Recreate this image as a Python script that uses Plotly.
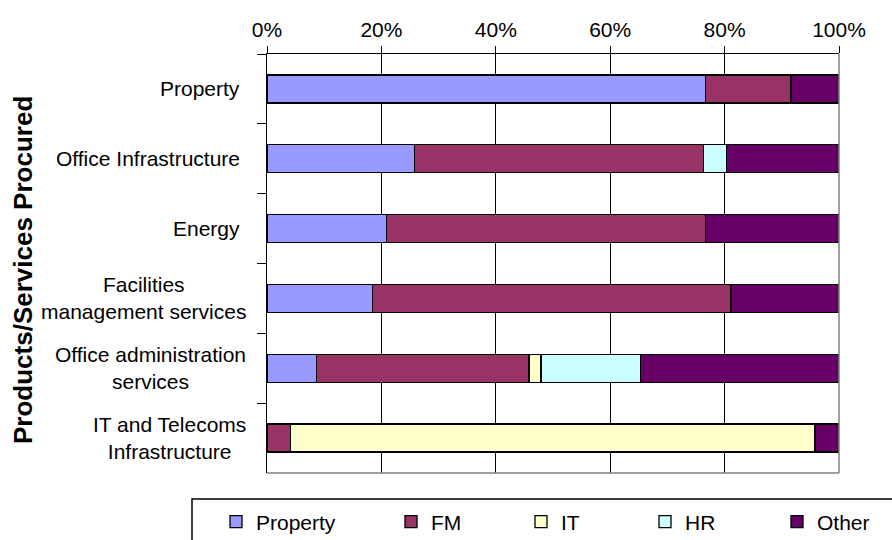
import plotly.graph_objects as go

categories = ["Property", "Office Infrastructure", "Energy",
              "Facilities management services", "Office administration services",
              "IT and Telecoms Infrastructure"]
category_labels = ["Property", "Office Infrastructure", "Energy",
                   "Facilities<br>management services", "Office administration<br>services",
                   "IT and Telecoms<br>Infrastructure"]
series_names = ["Property", "FM", "IT", "HR", "Other"]
property_vals = [76.6, 25.8, 20.9, 18.5, 8.7, None]
fm_vals = [15.0, 50.5, 55.7, 62.6, 37.1, 4.1]
it_vals = [None, None, None, None, 2.1, 91.7]
hr_vals = [None, 4.0, None, None, 17.4, None]
other_vals = [8.4, 19.7, 23.4, 18.9, 34.7, 4.2]
x_ticks = [0, 20, 40, 60, 80, 100]
x_tick_text = ["0%", "20%", "40%", "60%", "80%", "100%"]

colors = ["#9999FF", "#993366", "#FFFFCC", "#CCFFFF", "#660066"]
values = [property_vals, fm_vals, it_vals, hr_vals, other_vals]
legend_ids = ["legend", "legend2", "legend3", "legend4", "legend5"]
legend_px = [233, 408, 538, 662, 794]   # left edge of each legend square (px)

W, H = 892, 540
L, R, T, B = 267, 53, 54, 67
pw, ph = W - L - R, H - T - B

def px_x(p):
    return (p - L) / pw

def px_y(p):
    return (H - B - p) / ph

FONT = "Liberation Sans, Arial, sans-serif"
FS = 21

fig = go.Figure()
for name, vals, col, lid in zip(series_names, values, colors, legend_ids):
    fig.add_trace(go.Bar(
        y=categories, x=vals, name=name, orientation="h", legend=lid,
        marker=dict(color=col, line=dict(color="black", width=1.3)),
    ))

legend_layouts = {}
for lid, lx in zip(legend_ids, legend_px):
    legend_layouts[lid] = dict(
        orientation="h", x=px_x(lx - 17), xanchor="left",
        y=px_y(522), yanchor="middle", itemwidth=30,
        font=dict(family=FONT, size=FS, color="black"),
        bgcolor="rgba(0,0,0,0)", borderwidth=0)

fig.update_layout(
    width=W, height=H, barmode="stack", bargap=0.6,
    margin=dict(l=L, r=R, t=T, b=B, pad=0, autoexpand=False),
    paper_bgcolor="white", plot_bgcolor="white",
    font=dict(family=FONT, size=FS, color="black"),
    showlegend=True,
    xaxis=dict(side="top", range=[0, 100], tickvals=x_ticks, ticktext=x_tick_text,
               showgrid=True, gridcolor="black", gridwidth=1.3,
               showline=True, linecolor="black", linewidth=1.3,
               ticks="outside", ticklen=7, tickcolor="black", tickwidth=1.3,
               zeroline=False, fixedrange=True,
               tickfont=dict(family=FONT, size=FS)),
    yaxis=dict(categoryorder="array", categoryarray=categories, autorange="reversed",
               showticklabels=False, tickson="boundaries",
               ticks="outside", ticklen=9, tickcolor="black", tickwidth=1.3,
               showline=True, linecolor="black", linewidth=1.3,
               showgrid=False, zeroline=False, fixedrange=True),
    **legend_layouts,
)

# category labels (lines centred within each label block)
for cat, lab in zip(categories, category_labels):
    right = 248 if "<br>" in lab else 242
    fig.add_annotation(x=px_x(right), xref="paper", y=cat, yref="y",
                       text=lab, showarrow=False, xanchor="right", yanchor="middle",
                       align="center", font=dict(family=FONT, size=FS, color="black"))

# y axis title
fig.add_annotation(x=px_x(23), xref="paper", y=px_y(270), yref="paper",
                   text="<b>Products/Services Procured</b>", showarrow=False,
                   textangle=-90, xanchor="center", yanchor="middle",
                   font=dict(family=FONT, size=26, color="black"))

# grey right and bottom plot-area border
fig.add_shape(type="line", xref="paper", yref="paper", x0=1, x1=1, y0=0, y1=1,
              line=dict(color="#808080", width=1.5), layer="above")
fig.add_shape(type="line", xref="paper", yref="paper", x0=0, x1=1, y0=0, y1=0,
              line=dict(color="#808080", width=1.5), layer="above")

# legend frame
fig.add_shape(type="rect", xref="paper", yref="paper",
              x0=px_x(192), x1=px_x(905), y0=px_y(499), y1=px_y(560),
              line=dict(color="black", width=1.5), fillcolor="rgba(0,0,0,0)")

fig.write_html("out.html", config={"displayModeBar": False},
               post_script="document.body.style.margin='0px';")
